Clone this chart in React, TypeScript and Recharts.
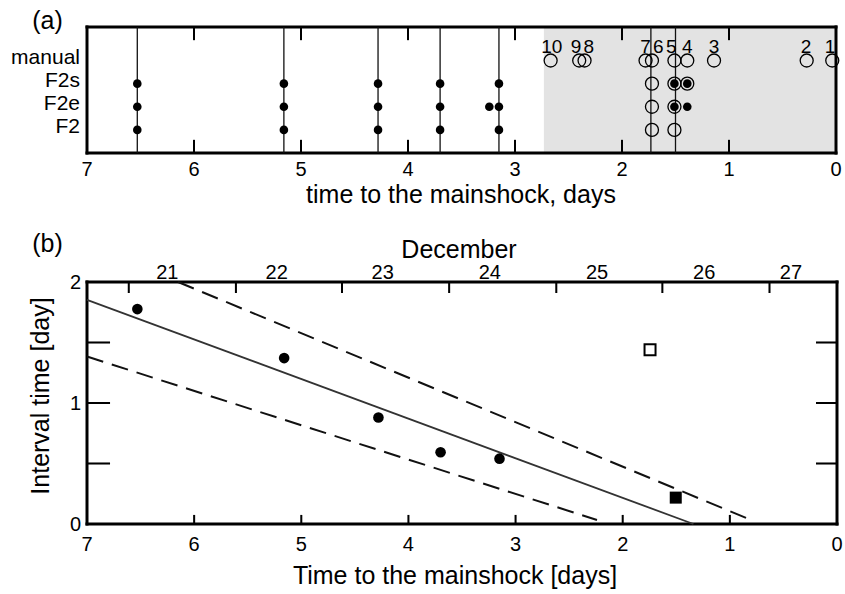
import React from 'react';
import { ComposedChart, Scatter, XAxis, YAxis, ReferenceLine, ReferenceArea } from 'recharts';

const FONT = '"Liberation Sans", Arial, Helvetica, sans-serif';

// ---------- Panel (a) data ----------
const rowNames = ['F2', 'F2e', 'F2s', 'manual'];
const rowLevels = [1, 2, 3, 4];
const dayTicks = [0, 1, 2, 3, 4, 5, 6, 7];
const eventLineDays = [6.53, 5.16, 4.28, 3.7, 3.15, 1.73, 1.5];
const foreshockDays = [6.53, 5.16, 4.28, 3.7, 3.15];
const f2eExtraDays = [3.24];
const manualDays = [2.667, 2.4, 2.35, 1.78, 1.72, 1.51, 1.39, 1.14, 0.274, 0.035];
const manualLabels = ['10', '9', '8', '7', '6', '5', '4', '3', '2', '1'];
const manualLabelDays = [2.657, 2.43, 2.31, 1.78, 1.66, 1.54, 1.39, 1.14, 0.28, 0.056];
const f2sOpenDays = [1.72, 1.51, 1.39];
const f2sFilledDays = [1.51, 1.39];
const f2eOpenDays = [1.72, 1.51];
const f2eFilledDays = [1.51, 1.39];
const f2OpenDays = [1.72, 1.51];
const shadedFromDays = 2.73;
const rowDomainTop = 5.45;

// ---------- Panel (b) data ----------
const intervalDays = [6.53, 5.16, 4.28, 3.7, 3.15];
const intervalValues = [1.776, 1.371, 0.88, 0.593, 0.54];
const openSquareDays = [1.745];
const openSquareValues = [1.44];
const filledSquareDays = [1.505];
const filledSquareValues = [0.218];
const fitLineDays = [7, 1.34];
const fitLineValues = [1.853, 0];
const upperBoundDays = [6.15, 0.84];
const upperBoundValues = [2.0, 0.047];
const lowerBoundDays = [7, 2.24];
const lowerBoundValues = [1.384, 0.033];
const intervalTop = 2;
const intervalLabelTicks = [0, 1, 2];
const intervalMinorTicks = [0.5, 1, 1.5];
const decemberTickDays = [6.61, 5.61, 4.62, 3.62, 2.62, 1.63, 0.63];
const decemberLabels = ['21', '22', '23', '24', '25', '26', '27'];
const decemberLabelDays = [6.25, 5.23, 4.24, 3.24, 2.24, 1.24, 0.43];

// frame half-thickness and tick sizes, in axis units
const FX = 0.014;      // ~1.5 px in days
const TX = 0.0095;     // ~1 px in days (tick half width)
const FYA = 0.066;     // ~1.5 px in panel (a) row units
const FYB = 0.0125;    // ~1.5 px in panel (b) interval units
const TYB = 0.0085;    // ~1 px in panel (b) interval units (tick half width)
const A_TICK = 0.57;
const B_XTICK = 0.075;
const B_TOPTICK = 0.091;
const B_LTICK = 0.215;
const B_RTICK = 0.196;

const pts = (xs: number[], ys: number[]) => xs.map((x, i) => ({ x, y: ys[i] }));
const row = (xs: number[], level: number) => xs.map((x) => ({ x, y: level }));

const FilledDot = (p: any) => <circle cx={p.cx} cy={p.cy} r={4.3} fill="#000" />;
const OpenDot = (p: any) => <circle cx={p.cx} cy={p.cy} r={6.5} fill="none" stroke="#000" strokeWidth={1.3} />;
const BigDot = (p: any) => <circle cx={p.cx} cy={p.cy} r={5.3} fill="#000" />;
const OpenSquare = (p: any) => <rect x={p.cx - 5.5} y={p.cy - 5.5} width={11} height={11} fill="#fff" stroke="#000" strokeWidth={2} />;
const FilledSquare = (p: any) => <rect x={p.cx - 6} y={p.cy - 6} width={12} height={12} fill="#000" />;
const NoShape = () => <g />;
const NumLabel = (p: any) => (
  <text x={p.cx} y={p.cy - 8} textAnchor="middle" fontSize={19} fontFamily={FONT} fill="#000">
    {p.payload.label}
  </text>
);
const RowTick = (props: any) => {
  const { x, y, payload } = props;
  const idx = rowLevels.indexOf(payload.value);
  return (
    <text x={x} y={y - 4} textAnchor="end" dominantBaseline="central" fontSize={21} fontFamily={FONT} fill="#000">
      {rowNames[idx]}
    </text>
  );
};

const tickStyle = { fontSize: 20, fill: '#000', fontFamily: FONT };
const BLACK = { fill: '#000', fillOpacity: 1, stroke: 'none', ifOverflow: 'visible' as const };

// frame drawn as four filled bands centred on the plot edges
const frameBands = (xa: string, ya: string, top: number, fy: number) => [
  <ReferenceArea key="fb" xAxisId={xa} yAxisId={ya} x1={7 + FX} x2={-FX} y1={-fy} y2={fy} {...BLACK} />,
  <ReferenceArea key="ft" xAxisId={xa} yAxisId={ya} x1={7 + FX} x2={-FX} y1={top - fy} y2={top + fy} {...BLACK} />,
  <ReferenceArea key="fl" xAxisId={xa} yAxisId={ya} x1={7 + FX} x2={7 - FX} y1={-fy} y2={top + fy} {...BLACK} />,
  <ReferenceArea key="fr" xAxisId={xa} yAxisId={ya} x1={FX} x2={-FX} y1={-fy} y2={top + fy} {...BLACK} />,
];

function PanelA() {
  const manualData = manualDays.map((x) => ({ x, y: 4 }));
  const manualLabelData = manualLabelDays.map((x, i) => ({ x, y: 4, label: manualLabels[i] }));
  const inner = dayTicks.slice(1, -1);
  const ax = { xAxisId: 'main', yAxisId: 'rows', isAnimationActive: false };
  return (
    <ComposedChart width={845} height={215} margin={{ top: 27, right: 9, bottom: 0, left: 0 }}>
      <XAxis xAxisId="main" dataKey="x" type="number" domain={[0, 7]} reversed ticks={dayTicks}
        axisLine={false} tickLine={false} tickSize={0} tickMargin={9} tick={tickStyle} height={62} interval={0} />
      <YAxis yAxisId="rows" dataKey="y" type="number" domain={[0, rowDomainTop]} ticks={rowLevels}
        axisLine={false} tickLine={false} tickSize={0} tickMargin={7} width={87} tick={RowTick} interval={0} />
      <ReferenceArea xAxisId="main" yAxisId="rows" x1={shadedFromDays} x2={0} y1={0} y2={rowDomainTop}
        fill="#e3e3e3" fillOpacity={1} stroke="none" ifOverflow="visible" />
      {eventLineDays.map((d, i) => (
        <ReferenceLine key={'e' + i} xAxisId="main" yAxisId="rows" x={d} stroke="#111" strokeWidth={1.3} />
      ))}
      {inner.map((d) => (
        <ReferenceArea key={'tb' + d} xAxisId="main" yAxisId="rows" x1={d + TX} x2={d - TX} y1={0} y2={A_TICK} {...BLACK} />
      ))}
      {inner.map((d) => (
        <ReferenceArea key={'tt' + d} xAxisId="main" yAxisId="rows" x1={d + TX} x2={d - TX}
          y1={rowDomainTop - A_TICK} y2={rowDomainTop} {...BLACK} />
      ))}
      <Scatter {...ax} data={row(foreshockDays, 3)} shape={FilledDot} />
      <Scatter {...ax} data={row(foreshockDays, 2)} shape={FilledDot} />
      <Scatter {...ax} data={row(foreshockDays, 1)} shape={FilledDot} />
      <Scatter {...ax} data={row(f2eExtraDays, 2)} shape={FilledDot} />
      <Scatter {...ax} data={manualData} shape={OpenDot} />
      <Scatter {...ax} data={manualLabelData} shape={NumLabel} />
      <Scatter {...ax} data={row(f2sOpenDays, 3)} shape={OpenDot} />
      <Scatter {...ax} data={row(f2sFilledDays, 3)} shape={FilledDot} />
      <Scatter {...ax} data={row(f2eOpenDays, 2)} shape={OpenDot} />
      <Scatter {...ax} data={row(f2eFilledDays, 2)} shape={FilledDot} />
      <Scatter {...ax} data={row(f2OpenDays, 1)} shape={OpenDot} />
      {frameBands('main', 'rows', rowDomainTop, FYA)}
    </ComposedChart>
  );
}

function PanelB() {
  const inner = dayTicks.slice(1, -1);
  const ax = { xAxisId: 'main', yAxisId: 'left', isAnimationActive: false };
  return (
    <ComposedChart width={845} height={394} margin={{ top: 82, right: 8, bottom: 0, left: 0 }}>
      <XAxis xAxisId="main" dataKey="x" type="number" domain={[0, 7]} reversed ticks={dayTicks}
        axisLine={false} tickLine={false} tickSize={0} tickMargin={13} tick={tickStyle} height={70} interval={0} />
      <YAxis yAxisId="left" dataKey="y" type="number" domain={[0, intervalTop]} ticks={intervalLabelTicks}
        axisLine={false} tickLine={false} tickSize={0} tickMargin={6} tick={tickStyle} width={87} interval={0} />
      {decemberLabelDays.map((d, i) => (
        <ReferenceLine key={'dl' + i} xAxisId="main" yAxisId="left" x={d} stroke="#000" strokeOpacity={0}
          label={{ value: decemberLabels[i], position: 'top', offset: 3, fontSize: 20, fill: '#000', fontFamily: FONT }} />
      ))}
      {inner.map((d) => (
        <ReferenceArea key={'tb' + d} xAxisId="main" yAxisId="left" x1={d + TX} x2={d - TX} y1={0} y2={B_XTICK} {...BLACK} />
      ))}
      {decemberTickDays.map((d) => (
        <ReferenceArea key={'tt' + d} xAxisId="main" yAxisId="left" x1={d + TX} x2={d - TX}
          y1={intervalTop - B_TOPTICK} y2={intervalTop} {...BLACK} />
      ))}
      {intervalMinorTicks.map((v) => (
        <ReferenceArea key={'tl' + v} xAxisId="main" yAxisId="left" x1={7} x2={7 - B_LTICK} y1={v - TYB} y2={v + TYB} {...BLACK} />
      ))}
      {intervalMinorTicks.map((v) => (
        <ReferenceArea key={'tr' + v} xAxisId="main" yAxisId="left" x1={B_RTICK} x2={0} y1={v - TYB} y2={v + TYB} {...BLACK} />
      ))}
      <Scatter {...ax} data={pts(lowerBoundDays, lowerBoundValues)} shape={NoShape} fill="#000"
        line={{ stroke: '#111', strokeWidth: 2, strokeDasharray: '17 9' }} />
      <Scatter {...ax} data={pts(upperBoundDays, upperBoundValues)} shape={NoShape} fill="#000"
        line={{ stroke: '#111', strokeWidth: 2, strokeDasharray: '17 9' }} />
      <Scatter {...ax} data={pts(fitLineDays, fitLineValues)} shape={NoShape} fill="#000"
        line={{ stroke: '#333', strokeWidth: 1.8 }} />
      <Scatter {...ax} data={pts(intervalDays, intervalValues)} shape={BigDot} />
      <Scatter {...ax} data={pts(openSquareDays, openSquareValues)} shape={OpenSquare} />
      <Scatter {...ax} data={pts(filledSquareDays, filledSquareValues)} shape={FilledSquare} />
      {frameBands('main', 'left', intervalTop, FYB)}
    </ComposedChart>
  );
}

export default function App() {
  const t = { fontFamily: FONT, fill: '#000' } as const;
  return (
    <div style={{ position: 'absolute', left: 0, top: 0, width: 845, height: 594, background: '#fff', fontFamily: FONT }}>
      <div style={{ position: 'absolute', left: 0, top: 0 }}>
        <PanelA />
      </div>
      <div style={{ position: 'absolute', left: 0, top: 200 }}>
        <PanelB />
      </div>
      <svg width={845} height={594} style={{ position: 'absolute', left: 0, top: 0, pointerEvents: 'none' }}>
        <text x={47.5} y={29} textAnchor="middle" fontSize={25} {...t}>(a)</text>
        <text x={461} y={203} textAnchor="middle" fontSize={25} {...t}>time to the mainshock, days</text>
        <text x={47.5} y={252} textAnchor="middle" fontSize={25} {...t}>(b)</text>
        <text x={459} y={258} textAnchor="middle" fontSize={25} {...t}>December</text>
        <g transform="translate(40,396) rotate(-90)">
          <text x={0} y={9} textAnchor="middle" fontSize={25} {...t}>Interval time [day]</text>
        </g>
        <text x={455} y={584} textAnchor="middle" fontSize={25} {...t}>Time to the mainshock [days]</text>
      </svg>
    </div>
  );
}
